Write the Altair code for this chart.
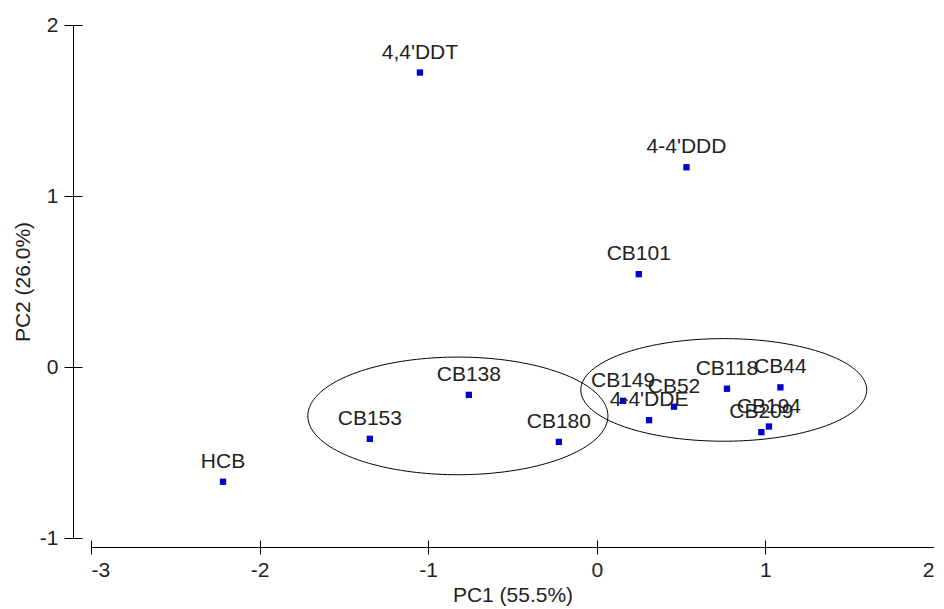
import altair as alt
import numpy as np
import pandas as pd

# ---- data ----
labels = ["4,4'DDT", "4-4'DDD", "CB101", "CB118", "CB44", "CB149", "CB52",
          "4-4'DDE", "CB194", "CB209", "CB138", "CB153", "CB180", "HCB"]
pc1 = [-1.049, 0.532, 0.249, 0.772, 1.089, 0.156, 0.458,
       0.310, 1.021, 0.976, -0.759, -1.346, -0.225, -2.217]
pc2 = [1.722, 1.168, 0.543, -0.127, -0.119, -0.198, -0.232,
       -0.311, -0.348, -0.381, -0.163, -0.420, -0.438, -0.671]

# ellipse parameters (centre, semi-axes in data units)
ell_names = ["group1", "group2"]
ell_cx = [-0.824, 0.753]
ell_cy = [-0.286, -0.134]
ell_rx = [0.890, 0.848]
ell_ry = [0.344, 0.300]

x_ticks = [-3, -2, -1, 0, 1, 2]
y_ticks = [-1, 0, 1, 2]
x_domain = [-3, 2]
y_domain = [-1, 2]

FONT = "Liberation Sans"
FS = 21
MINUS_FIX = "replace(datum.label, '\u2212', '-')"

df = pd.DataFrame({"label": labels, "pc1": pc1, "pc2": pc2})

rows = []
t = np.linspace(0, 2 * np.pi, 181)
for n, cx, cy, rx, ry in zip(ell_names, ell_cx, ell_cy, ell_rx, ell_ry):
    for i, a in enumerate(t):
        rows.append({"g": n, "i": i, "ex": cx + rx * np.cos(a), "ey": cy + ry * np.sin(a)})
edf = pd.DataFrame(rows)

xs = alt.Scale(domain=x_domain, nice=False, zero=False)
ys = alt.Scale(domain=y_domain, nice=False, zero=False)

# tick-only axes, offset so that the ticks cross the axis lines
x_tick_axis = alt.Axis(orient="bottom", offset=2, domain=False, labels=False, grid=False,
                       values=x_ticks, tickSize=14, tickColor="black", tickWidth=1)
y_tick_axis = alt.Axis(orient="left", offset=9, domain=False, labels=False, grid=False,
                       values=y_ticks, tickSize=18, tickColor="black", tickWidth=1)

# axes with domain line, labels and titles
x_main_axis = alt.Axis(orient="bottom", offset=9, domain=True, domainColor="black", domainWidth=1,
                       ticks=False, tickSize=0, labelPadding=12, values=x_ticks, grid=False,
                       labelExpr=MINUS_FIX,
                       labelFont=FONT, labelFontSize=FS, labelColor="#222",
                       titleFont=FONT, titleFontSize=FS, titleFontWeight="normal",
                       titleColor="#222", titlePadding=4)
y_main_axis = alt.Axis(orient="left", offset=18, domain=True, domainColor="black", domainWidth=1,
                       ticks=False, tickSize=0, labelPadding=15, values=y_ticks, grid=False,
                       labelExpr=MINUS_FIX,
                       labelFont=FONT, labelFontSize=FS, labelColor="#222",
                       titleFont=FONT, titleFontSize=FS, titleFontWeight="normal",
                       titleColor="#222", titlePadding=6)

points = alt.Chart(df).mark_square(size=40, color="#0000cc", opacity=1).encode(
    x=alt.X("pc1:Q", scale=xs, axis=x_tick_axis, title=None),
    y=alt.Y("pc2:Q", scale=ys, axis=y_tick_axis, title=None),
)

texts = alt.Chart(df).mark_text(font=FONT, fontSize=FS, align="center", baseline="alphabetic",
                                dy=-14, color="#222").encode(
    x=alt.X("pc1:Q", scale=xs, axis=x_main_axis, title="PC1 (55.5%)"),
    y=alt.Y("pc2:Q", scale=ys, axis=y_main_axis, title="PC2 (26.0%)"),
    text="label:N",
)

ellipses = alt.Chart(edf).mark_line(color="black", strokeWidth=1).encode(
    x=alt.X("ex:Q", scale=xs, axis=None),
    y=alt.Y("ey:Q", scale=ys, axis=None),
    detail="g:N",
    order="i:Q",
)

chart = alt.layer(ellipses, points, texts).resolve_axis(
    x="independent", y="independent"
).properties(
    width=843, height=513,
    autosize=alt.AutoSizeParams(type="none"),
    padding={"left": 83, "top": 17, "right": 0, "bottom": 72},
    background="white",
).configure_view(stroke=None)

chart.save("out.html", embed_options={"renderer": "svg", "actions": False})
